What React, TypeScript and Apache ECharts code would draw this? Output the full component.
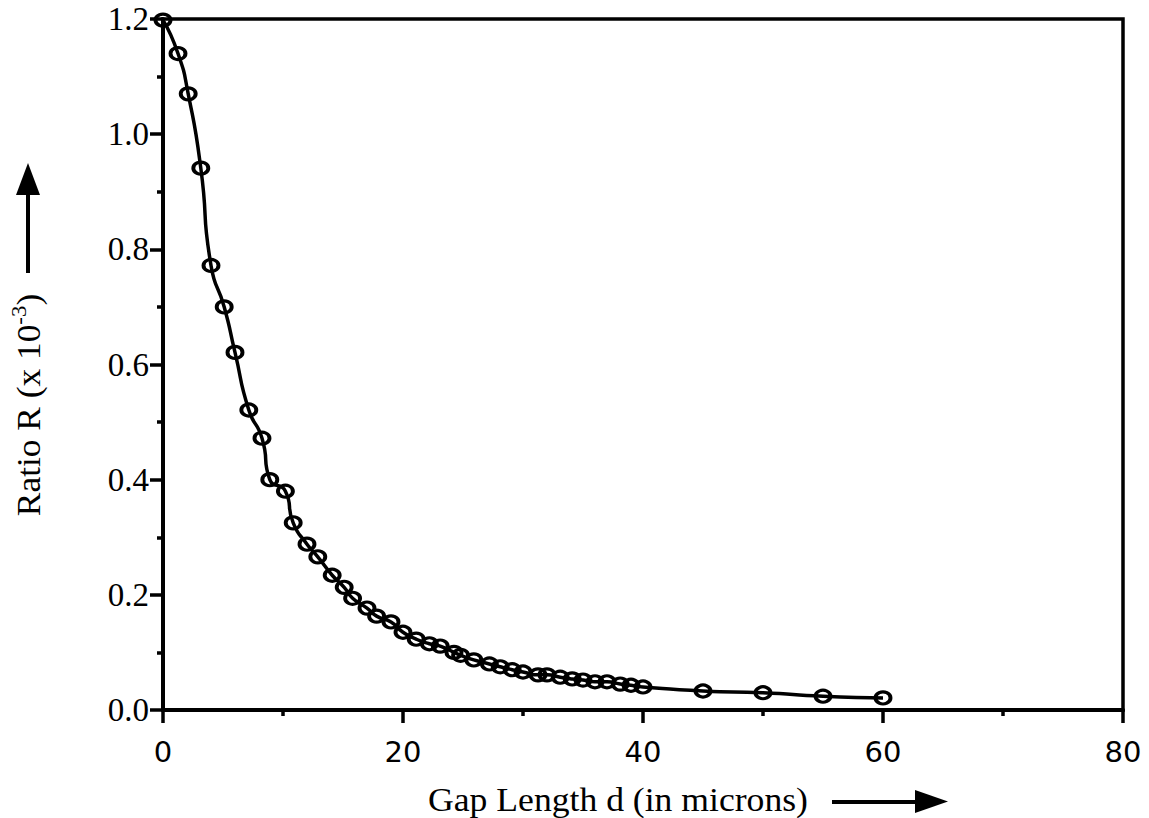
import React, { useEffect, useRef } from "react";
import * as echarts from "echarts";

const gapLength = [0, 1.25, 2.1, 3.15, 4, 5.1, 6, 7.15, 8.25, 8.9, 10.2, 10.85, 12, 12.9, 14.1, 15.1, 15.8, 17, 17.8, 19, 20, 21.1, 22.2, 23.1, 24.25, 24.8, 25.9, 27.2, 28.1, 29.1, 30, 31.25, 32, 33.1, 34.1, 35, 36, 37, 38.1, 39, 40, 45, 50, 55, 60];
const ratio = [1.198, 1.14, 1.07, 0.941, 0.772, 0.70, 0.621, 0.521, 0.472, 0.40, 0.38, 0.325, 0.288, 0.266, 0.234, 0.213, 0.194, 0.177, 0.163, 0.153, 0.135, 0.123, 0.115, 0.111, 0.10, 0.095, 0.087, 0.08, 0.075, 0.07, 0.066, 0.061, 0.061, 0.057, 0.054, 0.052, 0.049, 0.049, 0.045, 0.043, 0.040, 0.033, 0.030, 0.024, 0.021];

const xTitle = "Gap Length d (in microns)";
const yTitleMain = "Ratio R (x 10";
const yTitleSup = "-3";
const yTitleEnd = ")";

export default function App() {
  const ref = useRef<HTMLDivElement>(null);
  useEffect(() => {
    document.body.style.margin = "0";
    const chart = echarts.init(ref.current!, null, { renderer: "svg" });
    const points = gapLength.map((d, i) => [d, ratio[i]]);
    chart.setOption({
      animation: false,
      backgroundColor: "#fff",
      grid: {
        left: 163,
        right: 26,
        top: 19,
        bottom: 108,
        show: true,
        borderColor: "#000",
        borderWidth: 3.5,
      },
      xAxis: {
        type: "value",
        min: 0,
        max: 80,
        interval: 20,
        axisLine: { show: true, lineStyle: { color: "#000", width: 4 } },
        axisTick: { show: true, length: 13, lineStyle: { color: "#000", width: 3.5 } },
        minorTick: { show: true, splitNumber: 2, length: 6, lineStyle: { color: "#000", width: 3.5 } },
        splitLine: { show: false },
        axisLabel: {
          margin: 27,
          color: "#000",
          fontFamily: "DejaVu Sans",
          fontSize: 29,
        },
      },
      yAxis: {
        type: "value",
        min: 0,
        max: 1.2,
        interval: 0.2,
        axisLine: { show: true, lineStyle: { color: "#000", width: 4 } },
        axisTick: { show: true, length: 13, lineStyle: { color: "#000", width: 3.5 } },
        minorTick: { show: true, splitNumber: 2, length: 6, lineStyle: { color: "#000", width: 3.5 } },
        splitLine: { show: false },
        axisLabel: {
          margin: 14,
          color: "#000",
          fontFamily: "Liberation Serif",
          fontSize: 33,
          formatter: (v: number) => v.toFixed(1),
        },
      },
      series: [
        {
          type: "line",
          data: points,
          smooth: 0.6,
          symbol: "circle",
          symbolSize: [15, 12],
          lineStyle: { color: "#000", width: 3.5 },
          itemStyle: { color: "rgba(0,0,0,0)", borderColor: "#000", borderWidth: 3.5 },
          z: 3,
        },
      ],
      graphic: [
        {
          type: "text",
          x: 618,
          y: 799,
          scaleX: 1.08,
          style: {
            text: xTitle,
            fill: "#000",
            font: "33px 'Liberation Serif'",
            align: "center",
            verticalAlign: "middle",
          },
        },
        {
          type: "line",
          shape: { x1: 832, y1: 802, x2: 918, y2: 802 },
          style: { stroke: "#000", lineWidth: 4 },
        },
        {
          type: "polygon",
          shape: { points: [[915, 790], [915, 813], [948, 801.5]] },
          style: { fill: "#000" },
        },
        {
          type: "text",
          x: 27,
          y: 405,
          rotation: Math.PI / 2,
          scaleX: 1.04,
          style: {
            text: `{m|${yTitleMain}}{s|${yTitleSup}}{m|${yTitleEnd}}`,
            fill: "#000",
            align: "center",
            verticalAlign: "middle",
            rich: {
              m: { fontFamily: "Liberation Serif", fontSize: 34, lineHeight: 38, verticalAlign: "bottom" },
              s: { fontFamily: "Liberation Serif", fontSize: 22, lineHeight: 38, verticalAlign: "top" },
            },
          },
        },
        {
          type: "line",
          shape: { x1: 28, y1: 273, x2: 28, y2: 192 },
          style: { stroke: "#000", lineWidth: 4 },
        },
        {
          type: "polygon",
          shape: { points: [[16, 195], [40, 195], [28, 163]] },
          style: { fill: "#000" },
        },
      ],
    });
    return () => chart.dispose();
  }, []);
  return <div ref={ref} style={{ width: 1149, height: 818 }} />;
}
